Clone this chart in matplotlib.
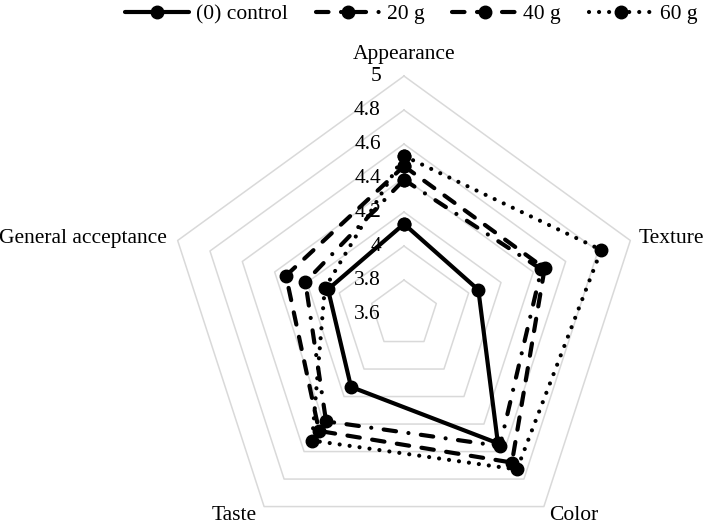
import numpy as np
import matplotlib as mpl
mpl.use("agg")
import matplotlib.pyplot as plt

categories = ["Appearance", "Texture", "Color", "Taste", "General acceptance"]
series_names = ["(0) control", "20 g", "40 g", "60 g"]
control = [4.13, 4.06, 4.54, 4.13, 4.07]
g20 = [4.39, 4.45, 4.56, 4.38, 4.21]
g40 = [4.47, 4.47, 4.68, 4.45, 4.33]
g60 = [4.53, 4.82, 4.73, 4.52, 4.09]
tick_values = [3.6, 3.8, 4.0, 4.2, 4.4, 4.6, 4.8, 5.0]
tick_labels = ["3.6", "3.8", "4", "4.2", "4.4", "4.6", "4.8", "5"]

plt.rcParams['font.family'] = ['Liberation Serif', 'DejaVu Serif']
fs = 15.5

fig = plt.figure(figsize=(7.09, 5.28), dpi=100)
ax = fig.add_axes([0.2341, -0.0455, 0.6714, 0.9015], projection='polar')
ax.set_theta_offset(np.pi / 2)
ax.set_theta_direction(-1)
ax.set_ylim(3.6, 5.0)
ax.grid(False)
ax.set_xticks([])
ax.set_yticks([])
ax.spines['polar'].set_visible(False)
ax.patch.set_visible(False)

n = len(categories)
angles = np.arange(n) * 2 * np.pi / n
closed = np.append(angles, angles[0])

# pentagon grid
for v in tick_values[1:]:
    ax.plot(closed, [v] * (n + 1), color='#d9d9d9', lw=1.1, zorder=1, clip_on=False)

# radial labels along the top axis
for v, t in zip(tick_values, tick_labels):
    ax.annotate(t, xy=(0, v), xytext=(-23, 0), textcoords='offset pixels',
                ha='right', va='center', fontsize=fs, zorder=2)

# category labels
offs = [(0, 22, 'center', 'center'), (8, 2, 'left', 'center'),
        (30, -9, 'center', 'center'), (-30, -9, 'center', 'center'),
        (-11, 2, 'right', 'center')]
for a, c, (dx, dy, ha, va) in zip(angles, categories, offs):
    ax.annotate(c, xy=(a, 5.0), xytext=(dx, dy), textcoords='offset pixels',
                ha=ha, va=va, fontsize=fs, annotation_clip=False)

styles = [dict(ls='-'),
          dict(ls=(0, (3, 3, 0.01, 3))),
          dict(ls=(0, (3, 3))),
          dict(ls=(0, (0.01, 2.4)))]
data = [control, g20, g40, g60]
for vals, name, st in zip(data, series_names, styles):
    v = np.append(vals, vals[0])
    ax.plot(closed, v, color='black', lw=3, marker='o', ms=9,
            dash_capstyle='round', solid_capstyle='round', label=name,
            zorder=3, clip_on=False, **st)

fig.legend(loc='center', bbox_to_anchor=(0.58, 1 - 14 / 528), ncol=4,
           frameon=False, fontsize=fs, handlelength=3.0, handletextpad=0.3,
           columnspacing=1.3)

fig.savefig("out.png", dpi=100)
